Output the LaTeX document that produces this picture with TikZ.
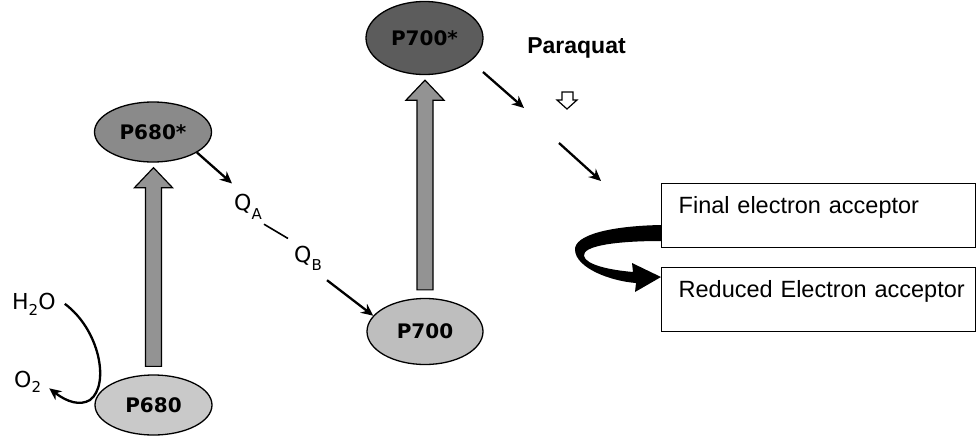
\documentclass[tikz,border=0pt]{standalone}
\usepackage{fontspec}
\setmainfont{DejaVu Sans}
\newfontfamily\arial{Liberation Sans}
\usetikzlibrary{shapes.geometric,arrows.meta,calc}
\definecolor{gA}{HTML}{8A8A8A}
\definecolor{gB}{HTML}{C9C9C9}
\definecolor{gC}{HTML}{BEBEBE}
\definecolor{gD}{HTML}{5C5C5C}
\definecolor{gE}{HTML}{939393}
\newcommand\bigup[2]{%
  \draw[bigarrow] let \p1=(#1.north), \p2=(#2.south) in
    (\x1-8pt,\y1+8pt) -- (\x1-8pt,\y2-25pt) -- (\x1-19pt,\y2-25pt) -- (\x1,\y2-5pt)
    -- (\x1+19pt,\y2-25pt) -- (\x1+8pt,\y2-25pt) -- (\x1+8pt,\y1+8pt) -- cycle;}
\begin{document}
\begin{tikzpicture}[x=1pt,y=-1pt,
  psnode/.style={ellipse,draw=black,line width=1.3pt,inner sep=0pt,
    font=\fontsize{20}{20}\selectfont\bfseries},
  bigarrow/.style={fill=gE,draw=black,line width=1.2pt,line join=miter},
  elarrow/.style={line width=2.3pt,-{Stealth[length=12pt,width=11pt]}},
  qlab/.style={font=\fontsize{22}{22}\selectfont,inner sep=0pt},
  accbox/.style={draw=black,line width=1.4pt,rectangle,anchor=north west,
    text width=314pt,inner xsep=0pt,inner ysep=13pt,text height=17pt,text depth=21pt,
    align=left,font=\arial\fontsize{23.5}{24}\selectfont}
]
\useasboundingbox (0,0) rectangle (978,437);

% photosystem nodes
\node[psnode,fill=gA,minimum width=117pt,minimum height=60pt] (p680s) at (153,132) {P680*};
\node[psnode,fill=gB,minimum width=117pt,minimum height=60pt] (p680) at (153.5,405) {P680};
\node[psnode,fill=gC,minimum width=116pt,minimum height=66pt] (p700) at (425,331.5) {P700};
\node[psnode,fill=gD,minimum width=117pt,minimum height=73pt] (p700s) at (424.5,38) {P700*};

% excitation arrows
\bigup{p680}{p680s}
\bigup{p700}{p700s}

% quinones
\node[qlab,anchor=base west] (qa) at (234,210) {Q\raisebox{-9pt}{\fontsize{15}{15}\selectfont A}};
\node[qlab,anchor=base west] (qb) at (294,262) {Q\raisebox{-8pt}{\fontsize{15}{15}\selectfont B}};

\draw[elarrow] (p680s.-25) -- ($(qa.north west)+(-2,-10)$);
\draw[line width=1.6pt] ($(qa.south east)+(2,5)$) -- ($(qb.north west)+(-6,-7)$);
\draw[elarrow] ($(qb.south east)+(5,10)$) -- (p700.163);

% water
\node[qlab,anchor=base west] (h2o) at (12,309) {H\raisebox{-6pt}{\fontsize{15}{15}\selectfont 2}O};
\node[qlab,anchor=base west] (o2) at (14,387) {O\raisebox{-5pt}{\fontsize{15}{15}\selectfont 2}};
\draw[elarrow] ($(h2o.east)+(9,0)$) .. controls (100,330) and (110,385) .. (90,400)
   .. controls (80,406) and (67,402) .. ($(o2.east)+(8,7)$);

% paraquat
\node[font=\arial\bfseries\fontsize{23}{23}\selectfont,anchor=base,inner sep=0pt] (pq) at (576.5,53) {Paraquat};
\draw[line width=1.2pt,fill=white,line join=miter] (562,92) -- (573,92) -- (573,100) -- (577,100)
   -- (567,109) -- (557,100) -- (562,100) -- cycle;

% electron flow from P700*
\coordinate (s1) at (483,72);
\coordinate (e1) at (524,108);
\coordinate (s2) at (559,143);
\coordinate (e2) at (601,181);
\draw[elarrow] (s1) -- (e1);
\draw[elarrow] (s2) -- (e2);

% acceptor boxes
\node[accbox] (b1) at (661,183) {\hspace*{17pt}Final electron acceptor};
\node[accbox] (b2) at (661,267) {\hspace*{17pt}Reduced Electron acceptor};

% thick curved reduction arrow
\fill[black] (661,225) .. controls (610,226) and (574,235) .. (575,250)
  .. controls (576,268) and (610,281) .. (636,283)
  -- (635,292) -- (661,277) -- (632,263) -- (633,272)
  .. controls (610,270) and (586,265) .. (584,256)
  .. controls (582,246) and (615,241) .. (661,241) -- cycle;
\end{tikzpicture}
\end{document}
